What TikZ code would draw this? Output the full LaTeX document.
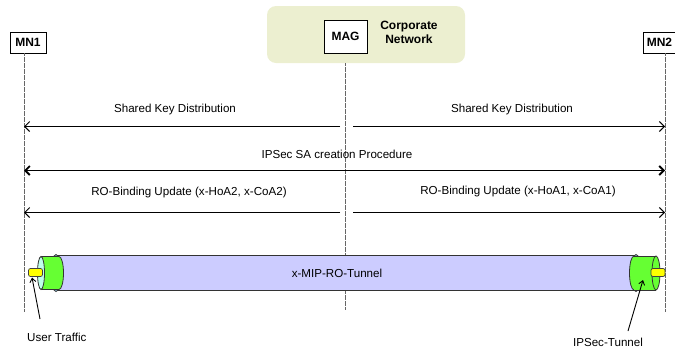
\documentclass[tikz,border=0pt]{standalone}
\usepackage{fontspec}
\setmainfont{Liberation Sans}
\usetikzlibrary{arrows.meta}
\definecolor{cnet}{RGB}{236,239,208}
\definecolor{tubebody}{RGB}{204,204,255}
\definecolor{tubeend}{RGB}{160,210,240}
\definecolor{sleeve}{RGB}{102,255,51}
\definecolor{sleeveface}{RGB}{190,255,235}
\definecolor{rod}{RGB}{255,255,0}
\begin{document}
\begin{tikzpicture}[x=1pt,y=-1pt,
  font=\fontsize{11.6}{13}\selectfont,
  entity/.style={draw=black, line width=0.9pt, fill=white, inner sep=0pt,
    font=\fontsize{12}{13}\selectfont\bfseries},
  lifeline/.style={draw=black!60, line width=1pt, dash pattern=on 0.6pt off 0.6pt},
  msg/.style={line width=1pt, -{Straight Barb[length=5pt,width=10pt]}},
  msgboth/.style={line width=1.8pt,
    {Straight Barb[length=4.5pt,width=9pt]}-{Straight Barb[length=4.5pt,width=9pt]}},
  ptr/.style={line width=0.9pt, -{Straight Barb[length=4pt,width=6pt]}},
  lbl/.style={inner sep=0pt},
  rim/.style={draw=black!80, line width=0.8pt},
  rodbox/.style={draw=black!75, line width=0.7pt, fill=rod, rounded corners=2pt,
    minimum width=14pt, minimum height=8pt, inner sep=0pt}
]
\useasboundingbox (0,0) rectangle (675,349);

% corporate network with the MAG
\node[fill=cnet, rounded corners=9pt, minimum width=198pt, minimum height=57pt,
  inner sep=0pt] (corp) at (366,34.5) {};
\node[entity, minimum width=43pt, minimum height=33pt] (mag) at (345.5,36.5) {MAG};
\node[lbl, align=center, font=\fontsize{12}{14}\selectfont\bfseries] (corptext)
  at (409,32) {Corporate\\Network};

% mobile nodes
\node[entity, minimum width=36pt, minimum height=21pt] (mn1) at (28,42.5) {MN1};
\node[entity, minimum width=33pt, minimum height=21pt] (mn2) at (659.5,42.5) {MN2};

% lifelines
\coordinate (l1a) at (24,53);    \coordinate (l1b) at (24,312);
\coordinate (lma) at (345.5,63); \coordinate (lmb) at (345.5,310);
\coordinate (l2a) at (665,53);   \coordinate (l2b) at (665,312);
\draw[lifeline] (l1a) -- (l1b);
\draw[lifeline] (lma) -- (lmb);
\draw[lifeline] (l2a) -- (l2b);

% messages
\coordinate (k1s) at (340,126.5); \coordinate (k1e) at (l1a |- k1s);
\coordinate (k2s) at (353,126.5); \coordinate (k2e) at (l2a |- k2s);
\draw[msg] (k1s) -- (k1e);
\draw[msg] (k2s) -- (k2e);
\node[lbl] (k1t) at (175,109) {Shared Key Distribution};
\node[lbl] (k2t) at (512,109) {Shared Key Distribution};

\coordinate (saL) at (24,170.5); \coordinate (saR) at (665,170.5);
\draw[msgboth] (saL) -- (saR);
\node[lbl] (sat) at (337,154) {IPSec SA creation Procedure};

\coordinate (b1s) at (340,212.5); \coordinate (b1e) at (l1a |- b1s);
\coordinate (b2s) at (353,212.5); \coordinate (b2e) at (l2a |- b2s);
\draw[msg] (b1s) -- (b1e);
\draw[msg] (b2s) -- (b2e);
\node[lbl] (b1t) at (189,192) {RO-Binding Update (x-HoA2, x-CoA2)};
\node[lbl] (b2t) at (518,191) {RO-Binding Update (x-HoA1, x-CoA1)};

% tunnel body
\fill[tubebody] (56,255.5) rectangle (636,290.5);
\draw[rim] (56,255.5) -- (636,255.5) (56,290.5) -- (636,290.5);
\node[lbl] (tubet) at (337,273) {x-MIP-RO-Tunnel};

% left end of the tunnel
\draw[rim, fill=tubeend] (56,273) ellipse [x radius=5pt, y radius=18.5pt];
\draw[rim, fill=sleeve] (59,273) ellipse [x radius=4.5pt, y radius=16.5pt];
\fill[sleeve] (41,256.5) rectangle (59,289.5);
\draw[rim] (41,256.5) -- (59,256.5) (41,289.5) -- (59,289.5);
\draw[rim, fill=sleeveface] (41,273) ellipse [x radius=3.5pt, y radius=16.5pt];
\node[rodbox] (rodL) at (35.5,272.5) {};

% right end of the tunnel
\draw[rim, fill=tubeend] (636,273) ellipse [x radius=5pt, y radius=18.5pt];
\draw[rim, fill=sleeve] (634,273) ellipse [x radius=4.5pt, y radius=17pt];
\fill[sleeve] (634,256) rectangle (656,290);
\draw[rim] (634,256) -- (656,256) (634,290) -- (656,290);
\draw[rim, fill=sleeve] (656,273) ellipse [x radius=4pt, y radius=17pt];
\node[rodbox] (rodR) at (658,272.5) {};

% callouts
\node[lbl, anchor=west] (ut) at (27,337) {User Traffic};
\coordinate (utTail) at (40,319); \coordinate (utTip) at (32,277.5);
\draw[ptr] (utTail) -- (utTip);
\node[lbl] (ipt) at (608,342) {IPSec-Tunnel};
\coordinate (ipTail) at (628,331); \coordinate (ipTip) at (643,280);
\draw[ptr] (ipTail) -- (ipTip);
\end{tikzpicture}
\end{document}
